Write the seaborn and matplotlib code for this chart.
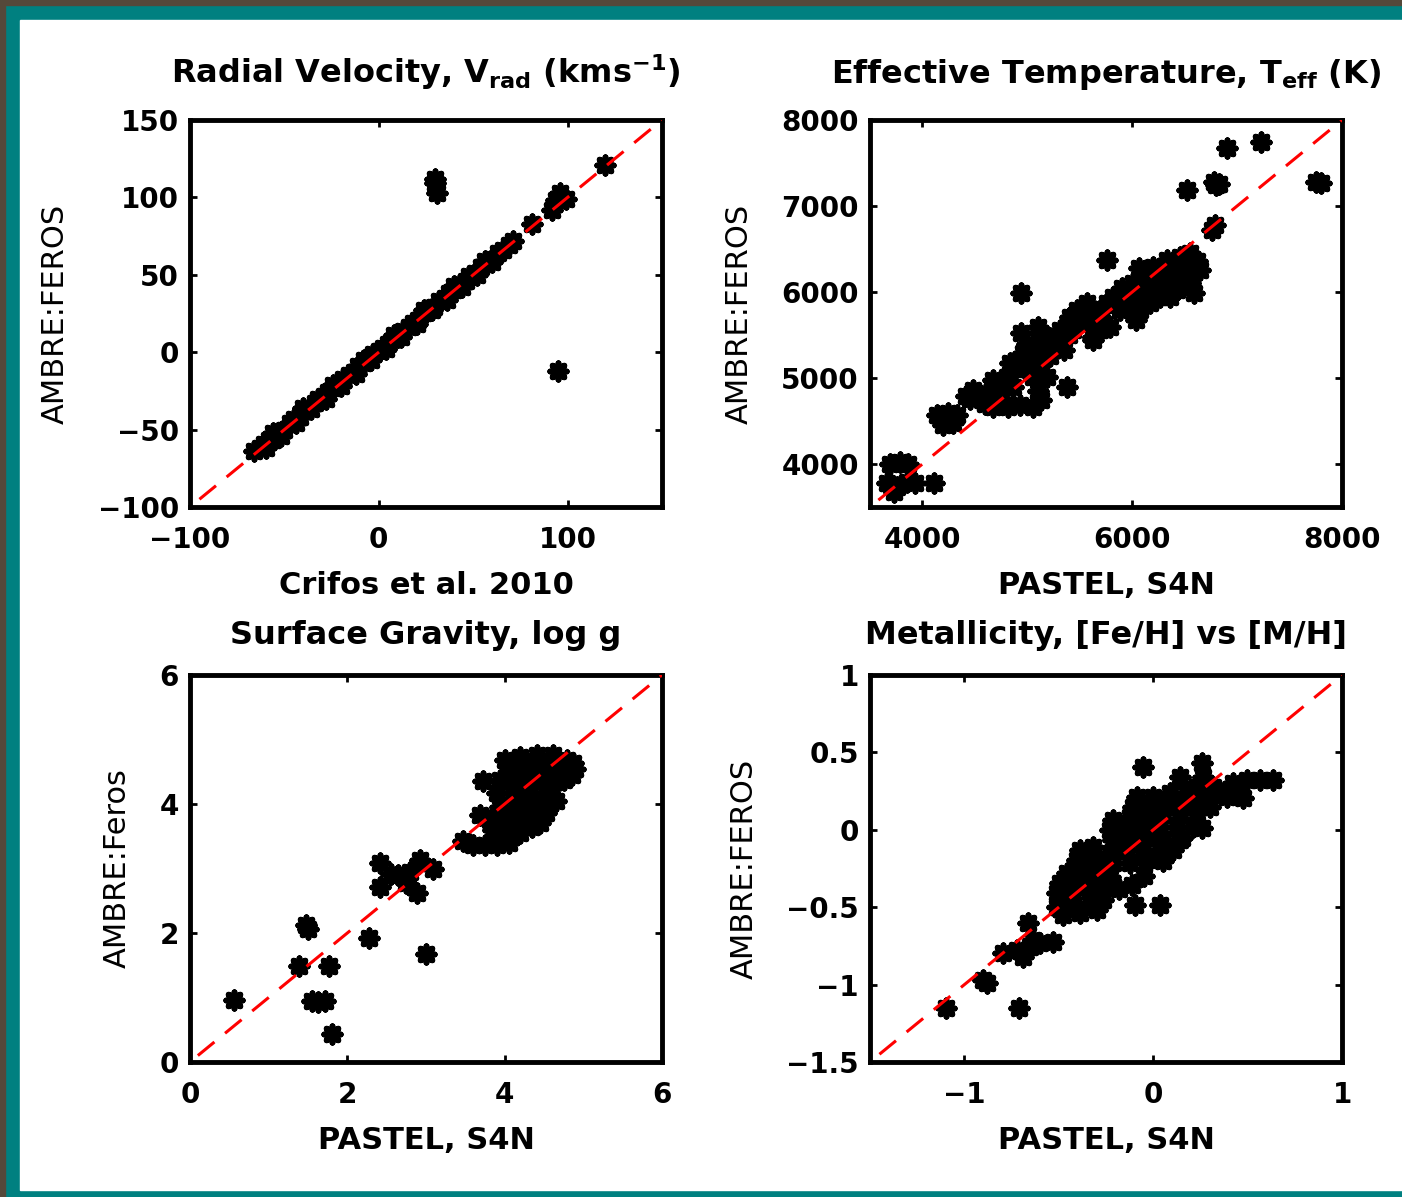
import matplotlib
matplotlib.use('Agg')
import matplotlib.pyplot as plt
from matplotlib.patches import Rectangle
import seaborn as sns

# ---- radial velocity (km/s): Crifos et al. 2010 vs AMBRE:FEROS ----
rv_x = [-66, -63, -61, -58, -56, -53, -50, -47, -45, -42, -40, -37, -34, -32, -29, -27,
        -24, -21, -19, -16, -13, -11, -8, -5, -3, 0, 2, 5, 8, 10, 13, 16, 18, 21, 24, 26,
        29, 32, 35, 37, 40, 43, 46, 48, 51, 54, 57, 60, 63, 66, 69, 71,
        -60, -52, -44, -36, -28, -20, -12, -4, 4, 12, 20, 28, 36, 44, 52, 60,
        -56, -40, -24, -8, 8, 24, 40, 56,
        81, 94, 99, 92, 96, 120, 30, 30, 31, 95]
rv_y = [-64, -62, -59, -57, -57, -52, -50, -46, -43, -42, -38, -36, -33, -30, -28, -26,
        -23, -21, -17, -15, -13, -9, -7, -4, -1, 1, 3, 5, 9, 10, 14, 16, 19, 21, 25, 27,
        29, 33, 35, 38, 40, 44, 46, 49, 51, 55, 58, 60, 64, 66, 69, 72,
        -62, -54, -46, -37, -30, -22, -14, -5, 2, 10, 18, 27, 34, 42, 50, 58,
        -52, -36, -21, -5, 11, 27, 43, 59,
        83, 98, 99, 92, 103, 121, 112, 109, 103, -12]

# ---- effective temperature (K): PASTEL/S4N vs AMBRE:FEROS ----
teff_x = [4450, 4565, 4675, 4740, 4675, 4820, 4805, 4935, 5105, 4960, 5055, 5120, 4995,
          4930, 5055, 5135, 5185, 5250, 5310, 5405, 5345, 5470, 5500, 5600, 5630, 5565,
          5695, 5755, 5820, 5790, 5915, 6010, 6075, 6040, 5980, 6140, 6200, 6265, 6330,
          6200, 6360, 6455, 6550, 6615, 6455, 6550, 6585, 6425, 5630, 5215, 5440, 5565,
          5695, 5885, 6105, 6170, 6330, 6265, 6485, 6645, 4835, 4865, 4610, 4485, 5055,
          4700, 4750, 5100, 4880, 5000, 5200, 5300, 5500, 5400, 5700, 5850, 6000, 6100,
          6250, 6400, 6500, 6350, 5200, 4600, 5150, 5900, 6060, 6420,
          7230, 6900, 7750, 7800, 6780, 6830, 6800, 6520, 6790, 6760, 5760, 4940, 5380,
          3690, 3785, 3865, 3660, 3755, 3850, 3930, 3725, 4110,
          4135, 4245, 4325, 4200, 4295, 4420, 4515]
teff_y = [4760, 4745, 4975, 4820, 4665, 4665, 5015, 5525, 5595, 5285, 5325, 5170, 5130,
          4685, 4665, 4745, 5015, 5405, 5560, 5715, 5325, 5790, 5635, 5790, 5480, 5870,
          5715, 5870, 5945, 5595, 5945, 6100, 5790, 5675, 5870, 6025, 6295, 6180, 6370,
          6025, 5945, 6410, 6450, 6355, 6180, 6100, 5985, 6025, 5440, 5250, 5560, 5635,
          5560, 5790, 6180, 5870, 6100, 5945, 6295, 6255, 5170, 4900, 4820, 4860, 5015,
          4900, 4750, 4850, 5100, 5400, 5450, 5450, 5700, 5500, 5800, 5850, 5950, 5950,
          6150, 6250, 6350, 6050, 5300, 4700, 5500, 6050, 6280, 6150,
          7740, 7670, 7280, 7270, 7280, 7260, 7240, 7190, 6780, 6720, 6370, 5990, 4900,
          4005, 4025, 4005, 3775, 3735, 3795, 3775, 3680, 3780,
          4570, 4590, 4570, 4455, 4475, 4785, 4785]

# ---- surface gravity, log g ----
logg_x = [0.56, 1.80, 1.55, 1.63, 1.72, 1.39, 1.77, 1.47, 1.50, 2.28, 3.00,
          2.42, 2.41, 2.92, 3.09, 2.88, 2.55, 2.65, 2.75, 2.75, 2.80,
          4.00, 4.20, 4.41, 4.62, 4.79, 4.11, 4.32, 4.53, 4.75, 3.94, 4.15, 4.36, 4.58,
          4.75, 3.90, 4.11, 4.32, 4.53, 3.94, 4.15, 4.36, 4.53, 3.69, 3.81, 4.03, 4.28,
          4.45, 4.11, 3.94, 3.47, 3.60, 3.75, 3.90, 4.05, 3.73, 4.87, 4.85,
          4.20, 4.45, 4.65, 4.25, 4.45, 4.00, 4.20, 4.35, 4.60, 4.90, 3.85, 4.20, 4.05,
          4.65, 4.30]
logg_y = [0.96, 0.43, 0.95, 0.93, 0.95, 1.49, 1.49, 2.12, 2.06, 1.93, 1.67,
          3.09, 2.71, 3.13, 3.00, 2.62, 2.92, 2.90, 2.90, 2.77, 2.95,
          4.68, 4.73, 4.76, 4.76, 4.68, 4.53, 4.58, 4.58, 4.53, 4.37, 4.32, 4.37, 4.37,
          4.37, 4.17, 4.17, 4.17, 4.17, 3.96, 3.96, 3.96, 3.86, 3.83, 3.75, 3.75, 3.75,
          3.70, 3.60, 3.49, 3.42, 3.36, 3.36, 3.36, 3.39, 4.35, 4.63, 4.45,
          4.45, 4.45, 4.62, 4.05, 4.05, 3.85, 3.85, 3.65, 4.25, 4.55, 3.60, 3.55, 4.45,
          4.05, 4.62]

# ---- metallicity, [Fe/H] vs [M/H] ----
feh_x = [0.257, -0.052, 0.142, 0.265, 0.424, 0.495, 0.566, 0.636, 0.318, 0.230,
         -0.088, 0.001, 0.089, 0.177, 0.283, 0.424, -0.105, -0.017, 0.071, 0.159, 0.248,
         -0.211, -0.123, -0.035, 0.054, 0.142, 0.230, -0.229, -0.141, -0.052, 0.036,
         0.124, 0.212, 0.257, -0.388, -0.317, -0.211, -0.123, -0.035, 0.054, 0.142,
         -0.405, -0.317, -0.229, -0.141, -0.052, 0.036, 0.107, -0.458, -0.388, -0.300,
         -0.211, -0.123, -0.035, -0.494, -0.405, -0.317, -0.229, -0.511, -0.423, -0.335,
         -0.246, -0.114, -0.511, -0.423, -0.335, -0.264, -0.096, 0.036, -0.476, -0.388,
         -0.300, 0.389, 0.477,
         -0.25, -0.15, 0.00, 0.10, -0.30, -0.05, 0.05, 0.15, -0.45, 0.30, 0.35, -0.18,
         -0.794, -0.723, -0.653, -0.600, -0.529, -0.688, -0.635, -0.661,
         -1.10, -0.71, -0.90, -0.88]
feh_y = [0.429, 0.408, 0.343, 0.343, 0.300, 0.322, 0.322, 0.322, 0.279, 0.279,
         0.214, 0.214, 0.236, 0.236, 0.236, 0.236, 0.149, 0.149, 0.171, 0.171, 0.171,
         0.063, 0.085, 0.085, 0.106, 0.106, 0.106, -0.001, 0.020, 0.020, 0.020,
         0.020, 0.020, 0.010, -0.130, -0.109, -0.066, -0.044, -0.044, -0.066, -0.066,
         -0.195, -0.173, -0.152, -0.130, -0.130, -0.130, -0.130, -0.281, -0.238, -0.238,
         -0.217, -0.217, -0.195, -0.346, -0.324, -0.303, -0.303, -0.410, -0.410, -0.389,
         -0.367, -0.357, -0.496, -0.496, -0.475, -0.453, -0.486, -0.486, -0.550, -0.540,
         -0.518, 0.214, 0.203,
         -0.25, -0.05, 0.05, 0.20, -0.35, -0.30, -0.20, -0.05, -0.45, 0.15, 0.25, -0.38,
         -0.798, -0.776, -0.755, -0.733, -0.723, -0.820, -0.712, -0.604,
         -1.15, -1.15, -0.97, -0.99]

# one-to-one reference lines
rv_line = [-95, 150]
teff_line = [3580, 8000]
logg_line = [0.1, 6]
feh_line = [-1.45, 1]

sns.set_style('ticks')
plt.rcParams['font.family'] = ['DejaVu Sans']
plt.rcParams['mathtext.fontset'] = 'custom'
plt.rcParams['mathtext.rm'] = 'DejaVu Sans:bold'
plt.rcParams['mathtext.default'] = 'rm'
plt.rcParams['text.color'] = 'black'
plt.rcParams['axes.labelcolor'] = 'black'

fig = plt.figure(figsize=(14.02, 11.97), dpi=100)
fig.patch.set_facecolor('#008080')
fig.add_artist(Rectangle((0, 1 - 5 / 1197), 1, 5 / 1197, transform=fig.transFigure,
                         color='#55483a', zorder=-2))
fig.add_artist(Rectangle((0, 0), 5 / 1402, 1, transform=fig.transFigure,
                         color='#55483a', zorder=-2))
fig.add_artist(Rectangle((20 / 1402, 7 / 1197), 1, 1 - 27 / 1197,
                         transform=fig.transFigure, color='white', zorder=-1))

W, H = 472 / 1402, 387 / 1197
panels = [
    dict(pos=[190 / 1402, 1 - 507 / 1197, W, H], x=rv_x, y=rv_y, line=rv_line,
         lim=(-100, 150), xt=[-100, 0, 100], yt=[-100, -50, 0, 50, 100, 150],
         title=r'Radial Velocity, V$_{\rm rad}$ (kms$^{-1}$)',
         xl='Crifos et al. 2010', yl='AMBRE:FEROS', tpad=27),
    dict(pos=[870 / 1402, 1 - 507 / 1197, W, H], x=teff_x, y=teff_y, line=teff_line,
         lim=(3500, 8000), xt=[4000, 6000, 8000], yt=[4000, 5000, 6000, 7000, 8000],
         title=r'Effective Temperature, T$_{\rm eff}$ (K)',
         xl='PASTEL, S4N', yl='AMBRE:FEROS', tpad=27),
    dict(pos=[190 / 1402, 1 - 1062 / 1197, W, H], x=logg_x, y=logg_y, line=logg_line,
         lim=(0, 6), xt=[0, 2, 4, 6], yt=[0, 2, 4, 6],
         title='Surface Gravity, log g', xl='PASTEL, S4N', yl='AMBRE:Feros', tpad=22),
    dict(pos=[870 / 1402, 1 - 1062 / 1197, W, H], x=feh_x, y=feh_y, line=feh_line,
         lim=(-1.5, 1), xt=[-1, 0, 1], yt=[-1.5, -1, -0.5, 0, 0.5, 1],
         title='Metallicity, [Fe/H] vs [M/H]', xl='PASTEL, S4N', yl='AMBRE:FEROS',
         tpad=22),
]

for p in panels:
    ax = fig.add_axes(p['pos'])
    ax.set_facecolor('white')
    sns.scatterplot(x=p['x'], y=p['y'], ax=ax, marker=(8, 2, 0), color='black',
                    s=140, linewidth=4.2, zorder=2)
    ax.plot(p['line'], p['line'], color='red', lw=2.2, ls=(0, (7, 4.5)), zorder=3)
    ax.set_xlim(p['lim'])
    ax.set_ylim(p['lim'])
    ax.set_xticks(p['xt'])
    ax.set_yticks(p['yt'])
    ax.set_xticklabels([f'{v:g}'.replace('-', '\u2212') for v in p['xt']])
    ax.set_yticklabels([f'{v:g}'.replace('-', '\u2212') for v in p['yt']])
    ax.tick_params(direction='in', top=True, right=True, length=5, width=2,
                   labelsize=20, colors='black')
    ax.tick_params(axis='x', pad=14)
    ax.tick_params(axis='y', pad=8)
    for lab in ax.get_xticklabels() + ax.get_yticklabels():
        lab.set_fontweight('bold')
    for sp in ax.spines.values():
        sp.set_linewidth(3.5)
        sp.set_color('black')
    ax.set_title(p['title'], fontsize=23, fontweight='bold', pad=p['tpad'])
    ax.set_xlabel(p['xl'], fontsize=22, fontweight='bold', labelpad=12)
    ax.set_ylabel(p['yl'], fontsize=22, labelpad=20)

fig.savefig('out.png', dpi=100, facecolor=fig.get_facecolor())
